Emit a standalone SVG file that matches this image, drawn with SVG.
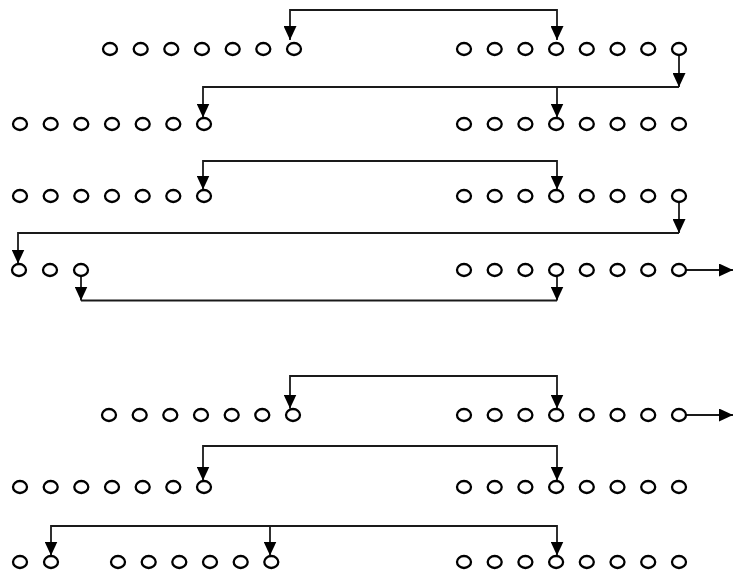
<svg xmlns="http://www.w3.org/2000/svg" width="733" height="577" viewBox="0 0 733 577">
<style>
.n{fill:#fff;stroke:#000;stroke-width:2.3}
.c{fill:none;stroke:#1a1a1a;stroke-width:1.8;marker-end:url(#ah)}
.d{marker-start:url(#ah)}
.p{fill:none;stroke:#1a1a1a;stroke-width:1.8}
</style>
<defs>
<marker id="ah" markerUnits="userSpaceOnUse" viewBox="0 0 14 13" refX="14" refY="6.5" markerWidth="14" markerHeight="13" orient="auto-start-reverse">
<path d="M0,0 L14,6.5 L0,13 z" fill="#000"/>
</marker>
</defs>
<rect width="733" height="577" fill="#fff"/>
<g id="connectors">
<path class="c d" d="M290,40 V10 H557 V40"/>
<path class="c" d="M679,56 V87"/>
<path class="c" d="M679,87 H203 V117.5"/>
<path class="c" d="M557,87 V117.5"/>
<path class="c d" d="M203,189.5 V161 H557 V189.5"/>
<path class="c" d="M679,203 V233"/>
<path class="c" d="M679,233 H18 V263.5"/>
<path class="c" d="M81,270 V300.5"/>
<path class="p" d="M81,300.5 H557"/>
<path class="c" d="M557,270 V300.5"/>
<path class="c" d="M686,270 H733"/>
<path class="c d" d="M290,408.5 V376 H557 V408.5"/>
<path class="c" d="M686,415 H733"/>
<path class="c d" d="M203,480.5 V446 H557 V480.5"/>
<path class="c d" d="M51,555.5 V526 H557 V555.5"/>
<path class="c" d="M270,526 V555.5"/>
</g>
<g id="row1">
<g id="r1l1"><ellipse class="n" cx="110" cy="49" rx="7" ry="6"/></g>
<g id="r1l2"><ellipse class="n" cx="140.7" cy="49" rx="7" ry="6"/></g>
<g id="r1l3"><ellipse class="n" cx="171.3" cy="49" rx="7" ry="6"/></g>
<g id="r1l4"><ellipse class="n" cx="202" cy="49" rx="7" ry="6"/></g>
<g id="r1l5"><ellipse class="n" cx="232.7" cy="49" rx="7" ry="6"/></g>
<g id="r1l6"><ellipse class="n" cx="263.3" cy="49" rx="7" ry="6"/></g>
<g id="r1l7"><ellipse class="n" cx="294" cy="49" rx="7" ry="6"/></g>
<g id="r1r1"><ellipse class="n" cx="464" cy="49" rx="7" ry="6"/></g>
<g id="r1r2"><ellipse class="n" cx="494.7" cy="49" rx="7" ry="6"/></g>
<g id="r1r3"><ellipse class="n" cx="525.4" cy="49" rx="7" ry="6"/></g>
<g id="r1r4"><ellipse class="n" cx="556.1" cy="49" rx="7" ry="6"/></g>
<g id="r1r5"><ellipse class="n" cx="586.8" cy="49" rx="7" ry="6"/></g>
<g id="r1r6"><ellipse class="n" cx="617.5" cy="49" rx="7" ry="6"/></g>
<g id="r1r7"><ellipse class="n" cx="648.2" cy="49" rx="7" ry="6"/></g>
<g id="r1r8"><ellipse class="n" cx="679" cy="49" rx="7" ry="6"/></g>
</g>
<g id="row2">
<g id="r2l1"><ellipse class="n" cx="20" cy="124" rx="7" ry="6"/></g>
<g id="r2l2"><ellipse class="n" cx="50.7" cy="124" rx="7" ry="6"/></g>
<g id="r2l3"><ellipse class="n" cx="81.3" cy="124" rx="7" ry="6"/></g>
<g id="r2l4"><ellipse class="n" cx="112" cy="124" rx="7" ry="6"/></g>
<g id="r2l5"><ellipse class="n" cx="142.7" cy="124" rx="7" ry="6"/></g>
<g id="r2l6"><ellipse class="n" cx="173.3" cy="124" rx="7" ry="6"/></g>
<g id="r2l7"><ellipse class="n" cx="204" cy="124" rx="7" ry="6"/></g>
<g id="r2r1"><ellipse class="n" cx="464" cy="124" rx="7" ry="6"/></g>
<g id="r2r2"><ellipse class="n" cx="494.7" cy="124" rx="7" ry="6"/></g>
<g id="r2r3"><ellipse class="n" cx="525.4" cy="124" rx="7" ry="6"/></g>
<g id="r2r4"><ellipse class="n" cx="556.1" cy="124" rx="7" ry="6"/></g>
<g id="r2r5"><ellipse class="n" cx="586.8" cy="124" rx="7" ry="6"/></g>
<g id="r2r6"><ellipse class="n" cx="617.5" cy="124" rx="7" ry="6"/></g>
<g id="r2r7"><ellipse class="n" cx="648.2" cy="124" rx="7" ry="6"/></g>
<g id="r2r8"><ellipse class="n" cx="679" cy="124" rx="7" ry="6"/></g>
</g>
<g id="row3">
<g id="r3l1"><ellipse class="n" cx="20" cy="196" rx="7" ry="6"/></g>
<g id="r3l2"><ellipse class="n" cx="50.7" cy="196" rx="7" ry="6"/></g>
<g id="r3l3"><ellipse class="n" cx="81.3" cy="196" rx="7" ry="6"/></g>
<g id="r3l4"><ellipse class="n" cx="112" cy="196" rx="7" ry="6"/></g>
<g id="r3l5"><ellipse class="n" cx="142.7" cy="196" rx="7" ry="6"/></g>
<g id="r3l6"><ellipse class="n" cx="173.3" cy="196" rx="7" ry="6"/></g>
<g id="r3l7"><ellipse class="n" cx="204" cy="196" rx="7" ry="6"/></g>
<g id="r3r1"><ellipse class="n" cx="464" cy="196" rx="7" ry="6"/></g>
<g id="r3r2"><ellipse class="n" cx="494.7" cy="196" rx="7" ry="6"/></g>
<g id="r3r3"><ellipse class="n" cx="525.4" cy="196" rx="7" ry="6"/></g>
<g id="r3r4"><ellipse class="n" cx="556.1" cy="196" rx="7" ry="6"/></g>
<g id="r3r5"><ellipse class="n" cx="586.8" cy="196" rx="7" ry="6"/></g>
<g id="r3r6"><ellipse class="n" cx="617.5" cy="196" rx="7" ry="6"/></g>
<g id="r3r7"><ellipse class="n" cx="648.2" cy="196" rx="7" ry="6"/></g>
<g id="r3r8"><ellipse class="n" cx="679" cy="196" rx="7" ry="6"/></g>
</g>
<g id="row4">
<g id="r4l1"><ellipse class="n" cx="19" cy="270" rx="7" ry="6"/></g>
<g id="r4l2"><ellipse class="n" cx="50" cy="270" rx="7" ry="6"/></g>
<g id="r4l3"><ellipse class="n" cx="81" cy="270" rx="7" ry="6"/></g>
<g id="r4r1"><ellipse class="n" cx="464" cy="270" rx="7" ry="6"/></g>
<g id="r4r2"><ellipse class="n" cx="494.7" cy="270" rx="7" ry="6"/></g>
<g id="r4r3"><ellipse class="n" cx="525.4" cy="270" rx="7" ry="6"/></g>
<g id="r4r4"><ellipse class="n" cx="556.1" cy="270" rx="7" ry="6"/></g>
<g id="r4r5"><ellipse class="n" cx="586.8" cy="270" rx="7" ry="6"/></g>
<g id="r4r6"><ellipse class="n" cx="617.5" cy="270" rx="7" ry="6"/></g>
<g id="r4r7"><ellipse class="n" cx="648.2" cy="270" rx="7" ry="6"/></g>
<g id="r4r8"><ellipse class="n" cx="679" cy="270" rx="7" ry="6"/></g>
</g>
<g id="row5">
<g id="r5l1"><ellipse class="n" cx="109" cy="415" rx="7" ry="6"/></g>
<g id="r5l2"><ellipse class="n" cx="139.7" cy="415" rx="7" ry="6"/></g>
<g id="r5l3"><ellipse class="n" cx="170.3" cy="415" rx="7" ry="6"/></g>
<g id="r5l4"><ellipse class="n" cx="201" cy="415" rx="7" ry="6"/></g>
<g id="r5l5"><ellipse class="n" cx="231.7" cy="415" rx="7" ry="6"/></g>
<g id="r5l6"><ellipse class="n" cx="262.3" cy="415" rx="7" ry="6"/></g>
<g id="r5l7"><ellipse class="n" cx="293" cy="415" rx="7" ry="6"/></g>
<g id="r5r1"><ellipse class="n" cx="464" cy="415" rx="7" ry="6"/></g>
<g id="r5r2"><ellipse class="n" cx="494.7" cy="415" rx="7" ry="6"/></g>
<g id="r5r3"><ellipse class="n" cx="525.4" cy="415" rx="7" ry="6"/></g>
<g id="r5r4"><ellipse class="n" cx="556.1" cy="415" rx="7" ry="6"/></g>
<g id="r5r5"><ellipse class="n" cx="586.8" cy="415" rx="7" ry="6"/></g>
<g id="r5r6"><ellipse class="n" cx="617.5" cy="415" rx="7" ry="6"/></g>
<g id="r5r7"><ellipse class="n" cx="648.2" cy="415" rx="7" ry="6"/></g>
<g id="r5r8"><ellipse class="n" cx="679" cy="415" rx="7" ry="6"/></g>
</g>
<g id="row6">
<g id="r6l1"><ellipse class="n" cx="20" cy="487" rx="7" ry="6"/></g>
<g id="r6l2"><ellipse class="n" cx="50.7" cy="487" rx="7" ry="6"/></g>
<g id="r6l3"><ellipse class="n" cx="81.3" cy="487" rx="7" ry="6"/></g>
<g id="r6l4"><ellipse class="n" cx="112" cy="487" rx="7" ry="6"/></g>
<g id="r6l5"><ellipse class="n" cx="142.7" cy="487" rx="7" ry="6"/></g>
<g id="r6l6"><ellipse class="n" cx="173.3" cy="487" rx="7" ry="6"/></g>
<g id="r6l7"><ellipse class="n" cx="204" cy="487" rx="7" ry="6"/></g>
<g id="r6r1"><ellipse class="n" cx="464" cy="487" rx="7" ry="6"/></g>
<g id="r6r2"><ellipse class="n" cx="494.7" cy="487" rx="7" ry="6"/></g>
<g id="r6r3"><ellipse class="n" cx="525.4" cy="487" rx="7" ry="6"/></g>
<g id="r6r4"><ellipse class="n" cx="556.1" cy="487" rx="7" ry="6"/></g>
<g id="r6r5"><ellipse class="n" cx="586.8" cy="487" rx="7" ry="6"/></g>
<g id="r6r6"><ellipse class="n" cx="617.5" cy="487" rx="7" ry="6"/></g>
<g id="r6r7"><ellipse class="n" cx="648.2" cy="487" rx="7" ry="6"/></g>
<g id="r6r8"><ellipse class="n" cx="679" cy="487" rx="7" ry="6"/></g>
</g>
<g id="row7">
<g id="r7l1"><ellipse class="n" cx="20" cy="562" rx="7" ry="6"/></g>
<g id="r7l2"><ellipse class="n" cx="51" cy="562" rx="7" ry="6"/></g>
<g id="r7m1"><ellipse class="n" cx="118" cy="562" rx="7" ry="6"/></g>
<g id="r7m2"><ellipse class="n" cx="148.7" cy="562" rx="7" ry="6"/></g>
<g id="r7m3"><ellipse class="n" cx="179.3" cy="562" rx="7" ry="6"/></g>
<g id="r7m4"><ellipse class="n" cx="210" cy="562" rx="7" ry="6"/></g>
<g id="r7m5"><ellipse class="n" cx="240.7" cy="562" rx="7" ry="6"/></g>
<g id="r7m6"><ellipse class="n" cx="271.3" cy="562" rx="7" ry="6"/></g>
<g id="r7r1"><ellipse class="n" cx="464" cy="562" rx="7" ry="6"/></g>
<g id="r7r2"><ellipse class="n" cx="494.7" cy="562" rx="7" ry="6"/></g>
<g id="r7r3"><ellipse class="n" cx="525.4" cy="562" rx="7" ry="6"/></g>
<g id="r7r4"><ellipse class="n" cx="556.1" cy="562" rx="7" ry="6"/></g>
<g id="r7r5"><ellipse class="n" cx="586.8" cy="562" rx="7" ry="6"/></g>
<g id="r7r6"><ellipse class="n" cx="617.5" cy="562" rx="7" ry="6"/></g>
<g id="r7r7"><ellipse class="n" cx="648.2" cy="562" rx="7" ry="6"/></g>
<g id="r7r8"><ellipse class="n" cx="679" cy="562" rx="7" ry="6"/></g>
</g>
</svg>
